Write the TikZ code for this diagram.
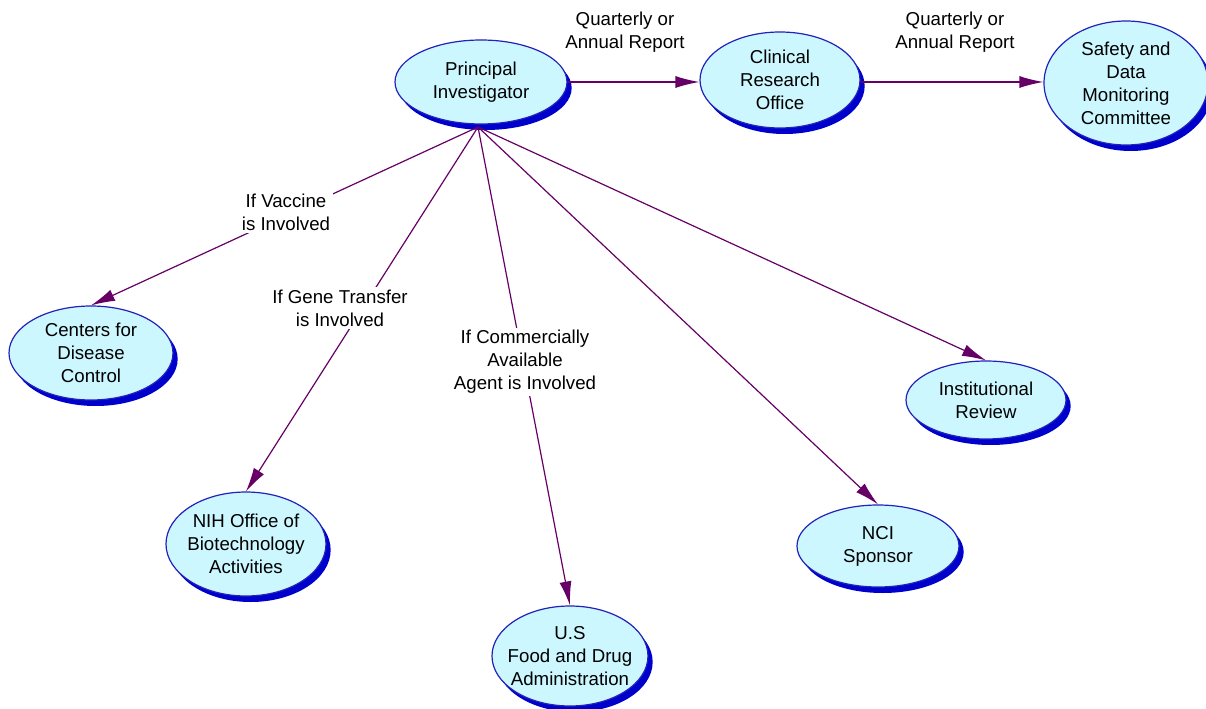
\documentclass[tikz,border=0pt]{standalone}
\usepackage{fontspec}
\setmainfont{Liberation Sans}
\usetikzlibrary{shapes.geometric,shadows,arrows.meta}
\definecolor{nodefill}{HTML}{CCF7FF}
\definecolor{nodeline}{HTML}{2222BB}
\definecolor{shadowblue}{HTML}{0000CC}
\definecolor{arrowcol}{HTML}{660066}
\tikzset{
  bubble/.style n args={2}{ellipse, draw=nodeline, line width=0.9pt, fill=nodefill,
    inner xsep=-6pt, inner ysep=0pt, align=center, font=\fontsize{14}{17.25}\selectfont,
    minimum width=#1*0.75pt, minimum height=#2*0.75pt,
    drop shadow={shadow xshift=3.5pt, shadow yshift=-4.5pt, fill=shadowblue, opacity=1}},
  link/.style={draw=arrowcol, line width=0.9pt, -{Latex[length=18pt,width=9pt]}},
  lbl/.style={fill=white, inner sep=2pt, align=center, font=\fontsize{14}{17.25}\selectfont}
}
\begin{document}
\begin{tikzpicture}[x=0.75pt,y=-0.75pt]
\useasboundingbox[fill=white] (0,0) rectangle (1206,709);
% nodes
\node[bubble={172}{84}] (pi) at (481,82) {Principal\\Investigator};
\node[bubble={160}{96}] (cro) at (780,80) {Clinical\\Research\\Office};
\node[bubble={164}{124}] (sdmc) at (1126,83) {Safety and\\Data\\Monitoring\\Committee};
\node[bubble={164}{94}] (cdc) at (91,353) {Centers for\\Disease\\Control};
\node[bubble={160}{104}] (nih) at (246,544) {NIH Office of\\Biotechnology\\Activities};
\node[bubble={156}{100}] (fda) at (570,656) {U.S\\Food and Drug\\Administration};
\node[bubble={162}{82}] (nci) at (878,546) {NCI\\Sponsor};
\node[bubble={160}{78}] (ir) at (986,400) {Institutional\\Review};
\coordinate (src) at (478,127);
% connectors
\draw[link] (pi.east) -- (pi.east -| cro.west);
\draw[link] (cro.east |- pi.east) -- (cro.east |- pi.east -| sdmc.west);
\draw[link] (src) -- (cdc.north);
\draw[link] (src) -- (nih.north);
\draw[link] (src) -- (fda.north);
\draw[link] (src) -- (nci.north);
\draw[link] (src) -- (ir.north);
% labels
\node[lbl] (l1) at (625,32) {Quarterly or\\Annual Report};
\node[lbl] (l2) at (955,32) {Quarterly or\\Annual Report};
\node[lbl] (l3) at (286,212) {If Vaccine\\is Involved};
\node[lbl] (l4) at (340,308) {If Gene Transfer\\is Involved};
\node[lbl] (l5) at (525,362) {If Commercially\\Available\\Agent is Involved};
\end{tikzpicture}
\end{document}
